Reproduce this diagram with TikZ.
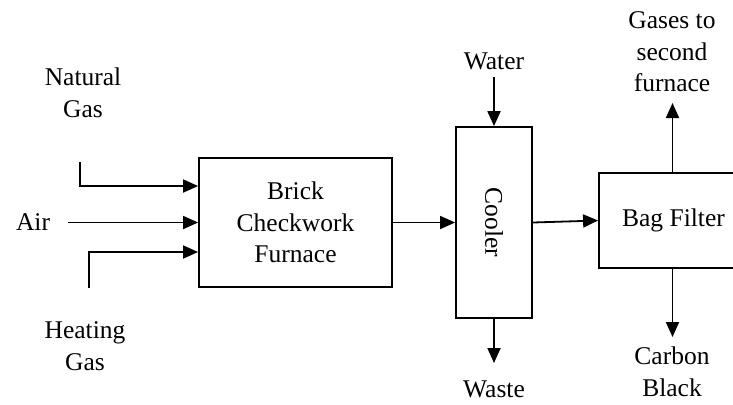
\documentclass[tikz,border=0pt]{standalone}
\usepackage{fontspec}
\setmainfont{Liberation Serif}
\usetikzlibrary{positioning,arrows.meta}

\begin{document}
\begin{tikzpicture}[
    x=0.5pt, y=-0.5pt,
    unit/.style={draw, rectangle, line width=0.9pt, align=center, inner sep=0pt},
    flow/.style={-{Triangle[length=7.5pt,width=6.5pt]}, line width=0.9pt},
    tag/.style={align=center, inner sep=0pt},
    font=\fontsize{12.75}{15.75}\selectfont
]

\useasboundingbox (0,0) rectangle (733,404);
\clip (0,0) rectangle (733,404);

% Process units
\node[unit, minimum width=96.5pt, minimum height=64.5pt] (furnace) at (295.5,222.5) {Brick\\Checkwork\\Furnace};
\node[unit, minimum width=38pt, minimum height=95.5pt] (cooler) at (494,222.5) {};
\node[rotate=-90, inner sep=0pt] (coolertext) at (cooler.center) {Cooler};
\node[unit, minimum width=73.5pt, minimum height=47.5pt] (bag) at (672.5,220.5) {};
\node[tag] (bagtext) at (673.5,220.5) {Bag Filter};

% Feeds to the furnace
\node[tag] (natgas) at (83,93) {Natural\\Gas};
\node[tag] (air) at (33,222) {Air};
\node[tag] (heatgas) at (85,346) {Heating\\Gas};
\coordinate (ngin) at (80,162);
\coordinate (airin) at (68,222.5);
\coordinate (hgin) at (89,288);
\draw[flow] (ngin) |- ([yshift=18.25pt]furnace.west);
\draw[flow] (airin) -- (furnace.west);
\draw[flow] (hgin) |- ([yshift=-14.75pt]furnace.west);

% Main line
\draw[flow] (furnace.east) -- (cooler.west);
\draw[flow] (cooler.east) -- (bag.west);

% Cooler water
\node[tag] (water) at (494,61) {Water};
\node[tag] (waste) at (494,389) {Waste};
\coordinate (win) at (494,77);
\coordinate (wout) at (494,363);
\draw[flow] (win) -- (cooler.north);
\draw[flow] (cooler.south) -- (wout);

% Bag filter outlets
\node[tag] (gases) at (672,52) {Gases to\\second\\furnace};
\node[tag] (carbon) at (672,372) {Carbon\\Black};
\coordinate (gout) at (672.5,103);
\coordinate (cout) at (672.5,337);
\draw[flow] (bag.north) -- (gout);
\draw[flow] (bag.south) -- (cout);

\end{tikzpicture}
\end{document}
